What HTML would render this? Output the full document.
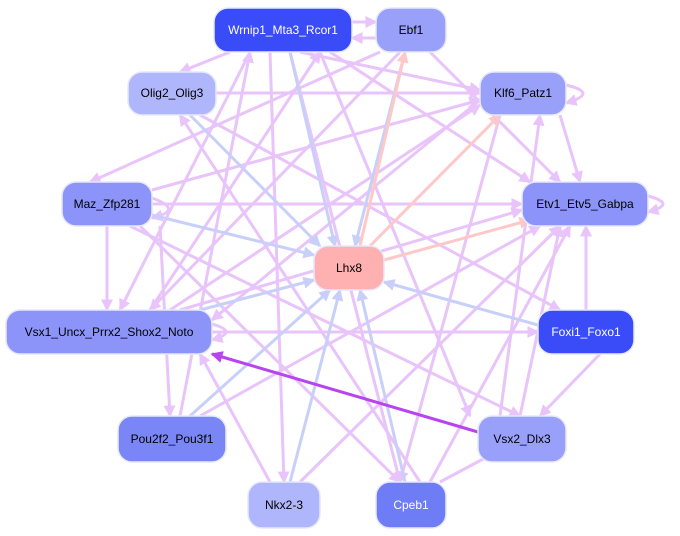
<!DOCTYPE html><html><head><style>body{margin:0;background:#fff}svg{display:block}text{font-family:"Liberation Sans",sans-serif;font-size:12px;text-anchor:middle;dominant-baseline:central}</style></head><body>
<svg width="680" height="536" viewBox="0 0 680 536">
<defs>
<marker id="p" markerWidth="4" markerHeight="4" refX="3.5" refY="2" orient="auto" markerUnits="strokeWidth"><path d="M0,0L4,2L0,4z" fill="#e8c4fa"/></marker>
<marker id="b" markerWidth="4" markerHeight="4" refX="3.5" refY="2" orient="auto" markerUnits="strokeWidth"><path d="M0,0L4,2L0,4z" fill="#c8d0fa"/></marker>
<marker id="r" markerWidth="4" markerHeight="4" refX="3.5" refY="2" orient="auto" markerUnits="strokeWidth"><path d="M0,0L4,2L0,4z" fill="#ffc8c8"/></marker>
<marker id="d" markerWidth="4" markerHeight="4" refX="3.5" refY="2" orient="auto" markerUnits="strokeWidth"><path d="M0,0L4,2L0,4z" fill="#b844f0"/></marker>
</defs>
<g fill="none" stroke="#e8c4fa" stroke-width="3" marker-end="url(#p)">
<line x1="230" y1="52" x2="180" y2="72"/>
<line x1="300" y1="52" x2="480" y2="90"/>
<line x1="330" y1="52" x2="530" y2="182"/>
<line x1="250" y1="52" x2="120" y2="310"/>
<line x1="270" y1="52" x2="284" y2="482"/>
<line x1="290" y1="52" x2="400" y2="482"/>
<line x1="200" y1="93" x2="480" y2="93"/>
<line x1="400" y1="52" x2="150" y2="310"/>
<line x1="430" y1="52" x2="560" y2="182"/>
<line x1="380" y1="52" x2="90" y2="182"/>
<line x1="152" y1="204" x2="522" y2="204"/>
<line x1="140" y1="226" x2="400" y2="482"/>
<line x1="130" y1="226" x2="520" y2="416"/>
<line x1="107" y1="226" x2="107" y2="310"/>
<line x1="152" y1="190" x2="480" y2="100"/>
<line x1="212" y1="332" x2="538" y2="332"/>
<line x1="586" y1="310" x2="586" y2="226"/>
<line x1="600" y1="354" x2="540" y2="416"/>
<line x1="500" y1="416" x2="540" y2="115"/>
<line x1="520" y1="416" x2="560" y2="226"/>
<line x1="430" y1="482" x2="570" y2="226"/>
<line x1="300" y1="482" x2="560" y2="226"/>
<line x1="200" y1="416" x2="540" y2="226"/>
<line x1="180" y1="416" x2="250" y2="52"/>
<line x1="270" y1="482" x2="200" y2="354"/>
<line x1="420" y1="482" x2="180" y2="115"/>
<line x1="440" y1="482" x2="500" y2="450"/>
<line x1="180" y1="310" x2="522" y2="210"/>
<line x1="170" y1="310" x2="480" y2="105"/>
<line x1="150" y1="310" x2="320" y2="52"/>
<line x1="560" y1="115" x2="580" y2="182"/>
<line x1="500" y1="115" x2="400" y2="482"/>
<line x1="480" y1="100" x2="212" y2="320"/>
<line x1="200" y1="115" x2="560" y2="310"/>
<line x1="160" y1="226" x2="170" y2="416"/>
<line x1="320" y1="52" x2="470" y2="416"/>
<path d="M566,85 Q600,93 566,103"/>
<path d="M648,196 Q678,204 648,212"/>
<path d="M152,198 Q185,210 152,218"/>
<path d="M212,324 Q240,332 212,340"/>
<path d="M352,22 L376,22"/><path d="M376,38 L352,38"/>
</g>
<g fill="none" stroke="#c8d0fa" stroke-width="3" marker-end="url(#b)">
<line x1="290" y1="52" x2="335" y2="246"/>
<line x1="405" y1="52" x2="355" y2="246"/>
<line x1="152" y1="215" x2="314" y2="255"/>
<line x1="190" y1="115" x2="320" y2="246"/>
<line x1="200" y1="310" x2="314" y2="280"/>
<line x1="190" y1="416" x2="330" y2="290"/>
<line x1="290" y1="482" x2="340" y2="290"/>
<line x1="405" y1="482" x2="360" y2="290"/>
<line x1="538" y1="325" x2="384" y2="282"/>
</g>
<g fill="none" stroke="#ffc8c8" stroke-width="3" marker-end="url(#r)">
<line x1="370" y1="246" x2="500" y2="115"/>
<line x1="384" y1="260" x2="530" y2="220"/>
<line x1="360" y1="246" x2="405" y2="52"/>
</g>
<line x1="478" y1="432" x2="212" y2="354" stroke="#b844f0" stroke-width="3" marker-end="url(#d)"/>
<g stroke="#e6e8ff" stroke-width="1.5">
<rect x="214" y="8" width="138" height="44" rx="14" fill="#3a4cf8"/>
<rect x="376" y="8" width="70" height="44" rx="14" fill="#98a0fa"/>
<rect x="128" y="72" width="88" height="43" rx="14" fill="#b0b6fc"/>
<rect x="480" y="72" width="86" height="43" rx="14" fill="#98a0fa"/>
<rect x="62" y="182" width="90" height="44" rx="14" fill="#8c94fa"/>
<rect x="522" y="182" width="126" height="44" rx="14" fill="#8c94fa"/>
<rect x="314" y="246" width="70" height="44" rx="14" fill="#ffb0b0"/>
<rect x="6" y="310" width="206" height="44" rx="14" fill="#8c94fa"/>
<rect x="538" y="310" width="96" height="44" rx="14" fill="#3a4cf8"/>
<rect x="118" y="416" width="108" height="46" rx="14" fill="#7a86f6"/>
<rect x="478" y="416" width="88" height="46" rx="14" fill="#98a0fa"/>
<rect x="248" y="482" width="72" height="46" rx="14" fill="#b0b6fc"/>
<rect x="376" y="482" width="70" height="46" rx="14" fill="#6e7cf6"/>
</g>
<text x="283" y="30" fill="#fff">Wrnip1_Mta3_Rcor1</text>
<text x="411" y="30">Ebf1</text>
<text x="172" y="93">Olig2_Olig3</text>
<text x="523" y="93">Klf6_Patz1</text>
<text x="107" y="204">Maz_Zfp281</text>
<text x="585" y="204">Etv1_Etv5_Gabpa</text>
<text x="349" y="268">Lhx8</text>
<text x="109" y="332">Vsx1_Uncx_Prrx2_Shox2_Noto</text>
<text x="586" y="332" fill="#fff">Foxi1_Foxo1</text>
<text x="172" y="439">Pou2f2_Pou3f1</text>
<text x="522" y="439">Vsx2_Dlx3</text>
<text x="284" y="505">Nkx2-3</text>
<text x="411" y="505" fill="#fff">Cpeb1</text>
</svg></body></html>
